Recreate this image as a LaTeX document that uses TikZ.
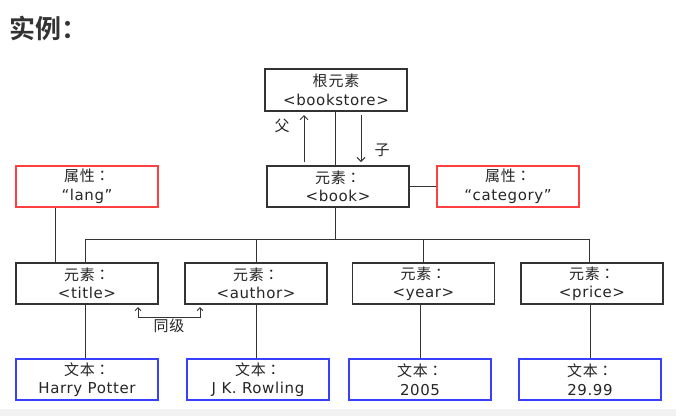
\documentclass[tikz,border=0pt]{standalone}
\usepackage{fontspec}
\setmainfont{DejaVu Sans}[LetterSpace=4]
\newfontfamily\cjk{Noto Sans CJK SC}[LetterSpace=6]
\newfontfamily\cjkc{Noto Sans CJK JP}
\newfontfamily\cjktitle{Noto Sans CJK SC Bold}
\usetikzlibrary{arrows.meta}
\definecolor{boxline}{HTML}{333333}
\definecolor{attrred}{HTML}{FF4040}
\definecolor{txtblue}{HTML}{3840FF}
\definecolor{stripgray}{HTML}{F2F2F2}
\definecolor{titlegray}{HTML}{333333}
\newcommand{\hdr}[1]{{\cjk #1\cjkc ：}}
\begin{document}
\begin{tikzpicture}[x=1pt,y=-1pt,
  elem/.style={draw=boxline, line width=1.2pt, minimum width=142pt, minimum height=41pt,
    inner sep=0pt, align=center, font=\fontsize{15}{18.5}\selectfont, text=black!85},
  attr/.style={elem, draw=attrred},
  txt/.style={elem, draw=txtblue},
  conn/.style={draw=boxline, line width=1pt},
  arr/.style={conn, -{Straight Barb[length=4pt,width=8pt]}},
  sib/.style={conn, {Straight Barb[length=3pt,width=6pt]}-{Straight Barb[length=3pt,width=6pt]}},
  lbl/.style={inner sep=0pt, font=\fontsize{15}{18}\selectfont\cjk, text=black!85}]
\useasboundingbox (0,0) rectangle (676,416);
\fill[white] (0,0) rectangle (676,416);
\fill[stripgray] (0,409) rectangle (676,416);

\node[anchor=west, inner sep=0pt, text=titlegray, font=\fontsize{26}{30}\selectfont\cjktitle] (heading) at (9,28) {实例：};

\node[elem, minimum height=42pt] (root) at (336,90) {{\cjk 根元素}\\<bookstore>};
\node[elem] (book) at (338,186.5) {\hdr{元素}\\<book>};
\node[attr] (lang) at (87,186.5) {\hdr{属性}\\“lang”};
\node[attr] (category) at (508,186.5) {\hdr{属性}\\“category”};
\node[elem] (title) at (87,283.5) {\hdr{元素}\\<title>};
\node[elem] (author) at (256,283.5) {\hdr{元素}\\<author>};
\node[elem] (year) at (423.5,283.5) {\hdr{元素}\\<year>};
\node[elem] (price) at (592,283.5) {\hdr{元素}\\<price>};
\node[txt] (t1) at (87,379.5) {\hdr{文本}\\Harry Potter};
\node[txt] (t2) at (258,379.5) {\hdr{文本}\\J K. Rowling};
\node[txt] (t3) at (420,379.5) {\hdr{文本}\\2005};
\node[txt] (t4) at (590,379.5) {\hdr{文本}\\29.99};
\foreach \t in {t1,t2,t3,t4}
  \draw[txtblue, line width=1.2pt] (\t.south west) -- (\t.south east);

\coordinate (bx) at (335,239);
\coordinate (bL) at (85,239);
\coordinate (bR) at (589,239);
\coordinate (lx) at (55,239);

\draw[conn] (root.south -| bx) -- (book.north -| bx);
\draw[conn] (book.south -| bx) -- (bx);
\draw[conn] (bL) -- (bR);
\draw[conn] (bL) -- (title.north -| bL);
\draw[conn] (author.north |- bL) -- (author.north);
\draw[conn] (year.north |- bL) -- (year.north);
\draw[conn] (bR) -- (price.north -| bR);

\draw[conn] (title.south -| bL) -- (t1.north -| bL);
\draw[conn] (author.south) -- (author.south |- t2.north);
\draw[conn] (t3.north |- year.south) -- (t3.north);
\draw[conn] (t4.north |- price.south) -- (t4.north);

\draw[conn] (lang.south -| lx) -- (title.north -| lx);
\draw[conn] (book.east) -- (category.west);

\coordinate (pu0) at (304,162);
\coordinate (pu1) at (304,115);
\coordinate (pd0) at (361,115);
\coordinate (pd1) at (361,162);
\draw[arr] (pu0) -- (pu1);
\draw[arr] (pd0) -- (pd1);
\node[lbl] (fu) at (282,126) {父};
\node[lbl] (zi) at (382,150) {子};

\coordinate (s1) at (138,307);
\coordinate (s2) at (200,307);
\draw[sib] (s1) -- ++(0,10) -| (s2);
\node[lbl] (tj) at (169,326) {同级};
\end{tikzpicture}
\end{document}
